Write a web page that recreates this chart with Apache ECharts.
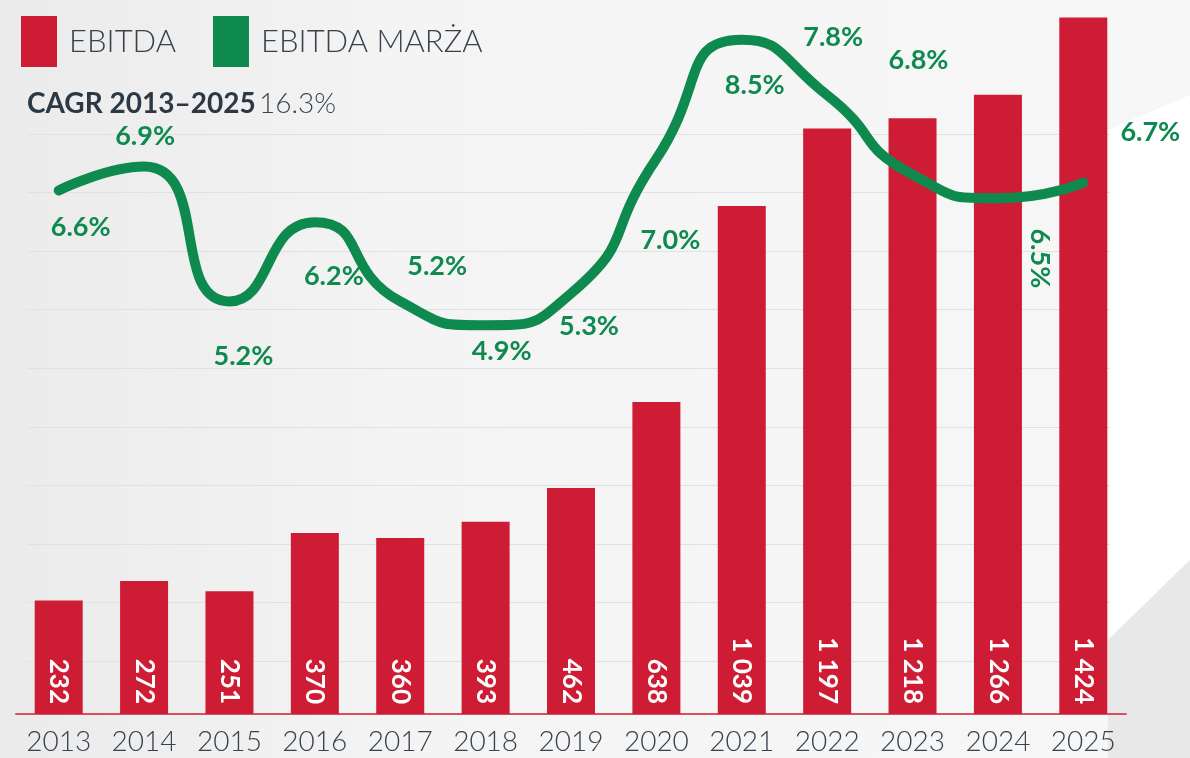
<!DOCTYPE html>
<html>
<head>
<meta charset="utf-8">
<title>EBITDA</title>
<script src="https://cdn.jsdelivr.net/npm/echarts@6/dist/echarts.min.js"></script>
<style>
  html, body { margin: 0; padding: 0; background: #f2f2f2; }
  #main { width: 1190px; height: 758px; }
</style>
</head>
<body>
<div id="main"></div>
<script>
// dane z wykresu
var years = ['2013', '2014', '2015', '2016', '2017', '2018', '2019', '2020', '2021', '2022', '2023', '2024', '2025'];
var ebitda = [232, 272, 251, 370, 360, 393, 462, 638, 1039, 1197, 1218, 1266, 1424];
var margin = [6.6, 6.9, 5.2, 6.2, 5.2, 4.9, 5.3, 7.0, 8.5, 7.8, 6.8, 6.5, 6.7];
var cagrTitle = 'CAGR 2013–2025';
var cagrValue = '16.3%';

var RED = '#cf1c35';
var GREEN = '#0f8a4f';
var FONT = 'Lato, "Open Sans", sans-serif';

// przesuniecia etykiet marzy wzgledem punktow linii
// (dla obroconej etykiety 2024 offset jest w ukladzie obroconym)
var labelShift = [[22, 37], [1, -30], [14, 55], [19, 54], [37, -35], [16, 26], [18, 33],
                  [14, 82], [13, 46], [6, -58], [6, -114], [60, -42], [67, -50]];

var marginData = margin.map(function (v, i) {
    var item = { value: v, label: { offset: labelShift[i] } };
    if (i === 11) item.label.rotate = -90;
    return item;
});

function spaced(n) {
    return String(n).replace(/\B(?=(\d{3})+(?!\d))/g, ' ');
}

var myChart = echarts.init(document.getElementById('main'));

var option = {
    backgroundColor: {
        type: 'linear', x: 0, y: 0, x2: 1, y2: 0,
        colorStops: [
            { offset: 0, color: '#ebebeb' },
            { offset: 0.35, color: '#f4f4f4' },
            { offset: 1, color: '#f7f7f7' }
        ]
    },
    animation: false,
    graphic: [
        {
            type: 'polygon', z: -10, silent: true,
            shape: { points: [[1108, 130], [1190, 95], [1190, 560], [1108, 640]] },
            style: { fill: '#ffffff' }
        },
        {
            type: 'polygon', z: -10, silent: true,
            shape: { points: [[1108, 640], [1190, 560], [1190, 758], [1108, 758]] },
            style: { fill: '#e8e8e8' }
        },
        {
            type: 'text', left: 27, top: 90,
            style: {
                text: '{b|' + cagrTitle + '} {n|' + cagrValue + '}',
                rich: {
                    b: { fontFamily: FONT, fontSize: 28, fontWeight: 'bold', fill: '#2c3945' },
                    n: { fontFamily: FONT, fontSize: 28, fontWeight: 300, fill: '#3a4550' }
                }
            }
        }
    ],
    legend: {
        left: 16, top: 11,
        icon: 'rect',
        itemWidth: 36, itemHeight: 51, itemGap: 37,
        data: ['EBITDA', 'EBITDA MARŻA'],
        textStyle: {
            fontFamily: FONT, fontSize: 31, fontWeight: 300, color: '#36424d',
            padding: [0, 0, 0, 7]
        }
    },
    grid: [
        { left: 16, right: 64, top: 0, bottom: 44 },
        { left: 27, right: 80, top: 134, bottom: 97 }
    ],
    xAxis: [
        {
            type: 'category', gridIndex: 0, data: years,
            axisTick: { show: false },
            axisLine: { lineStyle: { color: '#d6505f', width: 2 } },
            axisLabel: { fontFamily: FONT, fontSize: 28, fontWeight: 300, color: '#36424d', margin: 14 }
        },
        { type: 'value', gridIndex: 1, show: false }
    ],
    yAxis: [
        { type: 'value', gridIndex: 0, min: 0, max: 1460, show: false },
        { type: 'value', gridIndex: 0, min: 0, max: 9, show: false },
        {
            type: 'value', gridIndex: 1, min: 0, max: 9, interval: 1,
            axisLine: { show: false }, axisTick: { show: false }, axisLabel: { show: false },
            splitLine: { lineStyle: { color: '#e1e1e1', width: 1 } }
        }
    ],
    series: [
        {
            name: 'EBITDA',
            type: 'bar',
            data: ebitda,
            barWidth: 48,
            itemStyle: { color: RED },
            label: {
                show: true,
                position: 'insideBottom',
                distance: 10,
                rotate: -90,
                align: 'right',
                verticalAlign: 'middle',
                color: '#ffffff',
                fontFamily: FONT,
                fontSize: 26,
                fontWeight: 'bold',
                formatter: function (p) { return spaced(p.value); }
            }
        },
        {
            name: 'EBITDA MARŻA',
            type: 'line',
            yAxisIndex: 1,
            data: marginData,
            smooth: 0.6,
            symbol: 'circle',
            symbolSize: 0,
            itemStyle: { color: GREEN },
            lineStyle: { color: GREEN, width: 10, cap: 'round' },
            label: {
                show: true,
                position: 'inside',
                color: GREEN,
                fontFamily: FONT,
                fontSize: 27,
                fontWeight: 'bold',
                formatter: function (p) { return p.value.toFixed(1) + '%'; }
            },
            z: 5
        }
    ]
};

myChart.setOption(option);
</script>
</body>
</html>
